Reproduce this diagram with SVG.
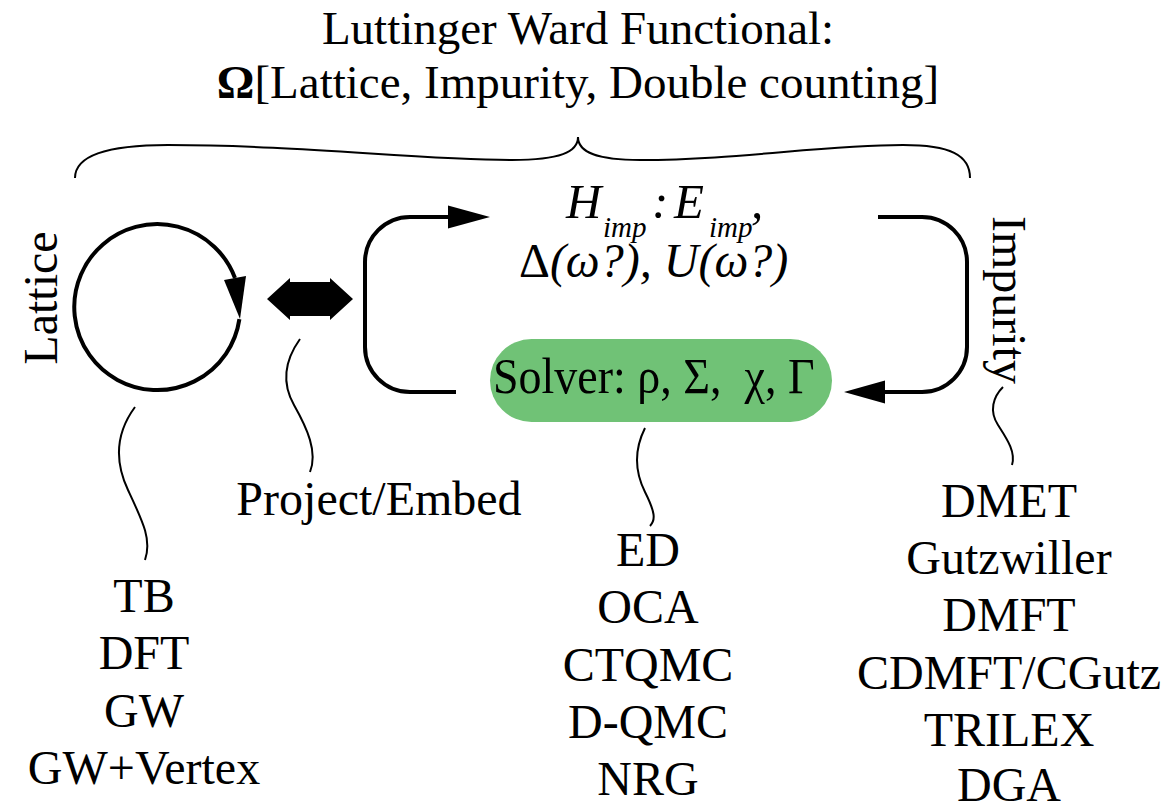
<svg xmlns="http://www.w3.org/2000/svg" width="1176" height="801" viewBox="0 0 1176 801">
<style>
text{font-family:"Liberation Serif","Times New Roman",serif;fill:#000}
.t{font-size:47px}
.l{font-size:48px;text-anchor:middle}
.it{font-style:italic}
.thick{fill:none;stroke:#000;stroke-width:4}
.thin{fill:none;stroke:#000;stroke-width:2}
.head{fill:#000;stroke:none}
</style>
<rect width="1176" height="801" fill="#fff"/>
<g id="title">
<text class="t" x="578" y="44" text-anchor="middle">Luttinger Ward Functional:</text>
<text class="t" x="578" y="98" text-anchor="middle"><tspan font-weight="bold">Ω</tspan>[Lattice, Impurity, Double counting]</text>
</g>
<g id="brace">
<path class="thin" stroke-width="2.5" d="M75,178 C75,155 110,145 168,145 C300,145 420,160 512,160 C560,160 578,152 578,137 C578,152 596,160 640,160 C740,160 820,145 903,145 C950,145 970,155 970,178"/>
</g>
<g id="lattice">
<text class="l" transform="translate(57,298) rotate(-90)">Lattice</text>
<path class="thick" d="M239.4,319.1 A83,83 0 1 1 235,278"/>
<polygon class="head" points="224,280 246,276 240,319"/>
</g>
<g id="project">
<polygon class="head" points="267,299 290,278 290,282 330,282 330,278 353,299 330,320 330,316 290,316 290,320"/>
</g>
<g id="impurity-loop">
<text class="l" transform="translate(993,300) rotate(90)">Impurity</text>
</g>
<g id="himp">
<text class="it" font-size="49"><tspan x="566" y="218">H</tspan><tspan x="603" y="237" font-size="29">imp</tspan><tspan x="652" y="218">:</tspan><tspan x="674" y="218">E</tspan><tspan x="709" y="237" font-size="29">imp</tspan><tspan x="751" y="218">,</tspan></text>
<text font-size="48" x="519" y="277"><tspan>Δ</tspan><tspan class="it">(ω?), U(ω?)</tspan></text>
</g>
<g id="solver">
<rect x="490" y="339" width="342" height="83" rx="41.5" fill="#70c276"/>
<text transform="translate(493,393) scale(1,1.1)" font-size="46" xml:space="preserve">Solver: ρ, Σ,  χ, Γ</text>
</g>
<g id="connectors">
<path class="thick" d="M456,392 H410 A45,45 0 0 1 365,347 V262 A45,45 0 0 1 410,217 H450"/>
<polygon class="head" points="448,205.5 490,217 448,228.5"/>
<path class="thick" d="M878,217 H922 A45,45 0 0 1 967,262 V347 A45,45 0 0 1 922,392 H883"/>
<polygon class="head" points="885,380.5 844,392 885,403.5"/>
<path class="thin" d="M135,407 C118,430 113,458 128,490 C143,522 152,540 145,560"/>
<path class="thin" d="M300,339 C285,360 281,382 294,405 C307,428 318,452 310,472"/>
<path class="thin" d="M645,428 C634,450 635,472 645,492 C655,512 656,520 650,526"/>
<path class="thin" d="M1003,387 C993,397 989,411 998,425 C1007,439 1016,452 1012,465"/>
</g>
<g id="project-label"><text class="l" x="379" y="515">Project/Embed</text></g>
<g id="lattice-list">
<text class="l" x="144" y="612">TB</text>
<text class="l" x="144" y="669">DFT</text>
<text class="l" x="144" y="727">GW</text>
<text class="l" x="144" y="784">GW+Vertex</text>
</g>
<g id="solver-list">
<text class="l" x="648" y="566">ED</text>
<text class="l" x="648" y="623">OCA</text>
<text class="l" x="648" y="681">CTQMC</text>
<text class="l" x="648" y="738">D-QMC</text>
<text class="l" x="648" y="795">NRG</text>
</g>
<g id="impurity-list">
<text class="l" x="1009" y="517">DMET</text>
<text class="l" x="1009" y="574">Gutzwiller</text>
<text class="l" x="1009" y="631">DMFT</text>
<text class="l" x="1009" y="689">CDMFT/CGutz</text>
<text class="l" x="1009" y="746">TRILEX</text>
<text class="l" x="1009" y="801">DGA</text>
</g>
</svg>
